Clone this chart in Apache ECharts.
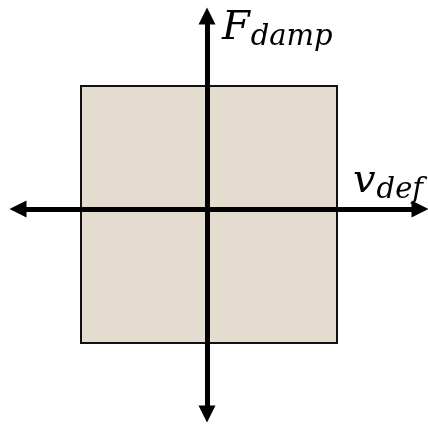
<!DOCTYPE html>
<html>
<head>
<meta charset="utf-8">
<script src="https://cdn.jsdelivr.net/npm/echarts@6/dist/echarts.min.js"></script>
<style>
  html, body { margin: 0; padding: 0; background: #ffffff; }
  #chart { width: 428px; height: 425px; }
</style>
</head>
<body>
<div id="chart"></div>
<script>
// axis extents (x to the right, y upwards), origin where the arrows cross
const xRange = [-189, 213]
const yRange = [-205, 193]
// the damper block: [xMin, yMin] and [xMax, yMax]
const blockLow = [-126, -134]
const blockHigh = [130, 123]
const axisNames = ['v', 'def', 'F', 'damp']

const chart = echarts.init(document.getElementById('chart'))

const axisCommon = {
  type: 'value',
  z: 10,
  axisLine: {
    onZero: true,
    symbol: ['triangle', 'triangle'],
    symbolSize: [17, 17],
    lineStyle: { color: '#000', width: 5 }
  },
  axisTick: { show: false },
  axisLabel: { show: false },
  splitLine: { show: false }
}

const serif = '"DejaVu Serif", "Liberation Serif", serif'
const labelRich = {
  b: { fontFamily: serif, fontStyle: 'italic', fontSize: 40, fill: '#000' },
  s: { fontFamily: serif, fontStyle: 'italic', fontSize: 29, fill: '#000', padding: [16, 0, 0, 1] }
}

chart.setOption({
  animation: false,
  grid: { left: 18, right: 8, top: 16, bottom: 11 },
  xAxis: Object.assign({}, axisCommon, { min: xRange[0], max: xRange[1] }),
  yAxis: Object.assign({}, axisCommon, { min: yRange[0], max: yRange[1] }),
  series: [
    {
      type: 'scatter',
      data: [],
      z: 1,
      markArea: {
        silent: true,
        itemStyle: { color: '#e4dccf', borderColor: '#111', borderWidth: 2, opacity: 1 },
        data: [[{ coord: blockLow }, { coord: blockHigh }]]
      }
    }
  ],
  graphic: [
    {
      type: 'text',
      left: 222,
      top: 9,
      style: { text: '{b|' + axisNames[2] + '}{s|' + axisNames[3] + '}', rich: labelRich }
    },
    {
      type: 'text',
      left: 353,
      top: 162,
      style: { text: '{b|' + axisNames[0] + '}{s|' + axisNames[1] + '}', rich: labelRich }
    }
  ]
})
</script>
</body>
</html>
